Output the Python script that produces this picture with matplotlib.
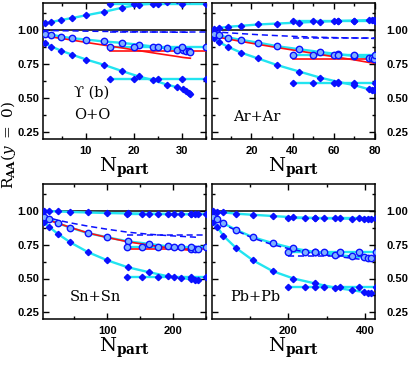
import matplotlib
matplotlib.use('Agg')
import matplotlib.pyplot as plt
from matplotlib.ticker import FixedLocator, FormatStrFormatter

plt.rcParams['mathtext.fontset'] = 'dejavuserif'

# ---------------- O+O ----------------
oo_x = [1.4, 2.8, 4.8, 7.2, 10.1, 13.8, 17.5, 21.0, 24.1, 26.9, 29.0, 30.2, 30.9, 31.5, 31.8]
oo_top = [1.05, 1.06, 1.075, 1.09, 1.11, 1.135, 1.165, 1.188, 1.196, 1.21, 1.22, 1.225, 1.23, 1.23, 1.23]
oo_mid = [0.975, 0.968, 0.953, 0.941, 0.931, 0.917, 0.907, 0.893, 0.88, 0.866, 0.858, 0.852, 0.848, 0.845, 0.843]
oo_low = [0.904, 0.88, 0.85, 0.819, 0.784, 0.745, 0.70, 0.66, 0.632, 0.60, 0.581, 0.566, 0.554, 0.541, 0.532]
oo_red = [0.957, 0.95, 0.94, 0.927, 0.91, 0.89, 0.87, 0.85, 0.833, 0.818, 0.807, 0.80, 0.797, 0.795, 0.794]
oo_dash = [0.998, 0.997, 0.996, 0.995, 0.993, 0.991, 0.99, 0.988, 0.987, 0.986, 0.985, 0.985, 0.985, 0.985, 0.985]
oo_hx = [15, 20, 25, 30, 35]
oo_h = {'top': 1.19, 'mid': 0.88, 'low': 0.64, 'red': 0.845, 'dash': 0.985}

# ---------------- Ar+Ar ----------------
ar_x = [1.7, 4.1, 8.7, 14.8, 23.2, 32.6, 43.2, 53.2, 62.1, 69.9, 77.0, 78.5, 79.5]
ar_top = [1.012, 1.017, 1.025, 1.032, 1.042, 1.049, 1.056, 1.063, 1.068, 1.071, 1.074, 1.075, 1.075]
ar_mid = [0.975, 0.963, 0.946, 0.929, 0.909, 0.882, 0.86, 0.84, 0.824, 0.811, 0.797, 0.793, 0.79]
ar_low = [0.939, 0.914, 0.877, 0.836, 0.792, 0.743, 0.696, 0.652, 0.62, 0.596, 0.566, 0.562, 0.559]
ar_red = [0.955, 0.948, 0.935, 0.918, 0.896, 0.872, 0.847, 0.822, 0.80, 0.782, 0.763, 0.76, 0.757]
ar_dash = [0.99, 0.986, 0.981, 0.975, 0.967, 0.96, 0.953, 0.948, 0.945, 0.943, 0.941, 0.94, 0.939]
ar_hx = [40, 50, 60, 62, 70, 80]
ar_h = {'top': 1.069, 'mid': 0.82, 'low': 0.61, 'red': 0.787, 'dash': 0.945}

# ---------------- Sn+Sn ----------------
sn_x = [3.6, 11.2, 24.9, 44.2, 70.6, 100, 131.5, 163.5, 192, 212.7, 228, 234, 238]
sn_top = [1.0, 0.999, 0.997, 0.993, 0.989, 0.985, 0.982, 0.98, 0.978, 0.977, 0.976, 0.975, 0.975]
sn_mid = [0.958, 0.941, 0.909, 0.877, 0.836, 0.806, 0.775, 0.757, 0.738, 0.73, 0.72, 0.718, 0.716]
sn_low = [0.922, 0.885, 0.831, 0.767, 0.696, 0.635, 0.583, 0.547, 0.517, 0.505, 0.493, 0.49, 0.488]
sn_red = [0.944, 0.932, 0.91, 0.878, 0.838, 0.804, 0.772, 0.748, 0.728, 0.716, 0.708, 0.705, 0.703]
sn_dash = [0.962, 0.95, 0.932, 0.912, 0.888, 0.865, 0.843, 0.828, 0.818, 0.812, 0.808, 0.806, 0.805]
sn_hx = [130, 153, 177, 202, 228, 250]
sn_h = {'top': 0.975, 'mid': 0.735, 'low': 0.51, 'red': 0.72, 'dash': 0.82}

# ---------------- Pb+Pb ----------------
pb_x = [4, 13, 30, 63.5, 107, 159, 213, 270, 322, 365, 396, 409, 415]
pb_top = [0.998, 0.995, 0.99, 0.98, 0.972, 0.963, 0.953, 0.948, 0.945, 0.943, 0.941, 0.94, 0.94]
pb_mid = [0.958, 0.939, 0.909, 0.86, 0.806, 0.762, 0.723, 0.696, 0.676, 0.664, 0.657, 0.654, 0.652]
pb_low = [0.922, 0.885, 0.816, 0.725, 0.635, 0.554, 0.50, 0.463, 0.431, 0.414, 0.40, 0.395, 0.393]
pb_dash = [0.955, 0.935, 0.902, 0.855, 0.799, 0.75, 0.713, 0.684, 0.665, 0.65, 0.64, 0.635, 0.63]
pb_hx = [200, 244, 270, 292, 335, 383, 428]
pb_h = {'top': 0.945, 'mid': 0.694, 'low': 0.44, 'dash': 0.664}

labels = ['O+O', 'Ar+Ar', 'Sn+Sn', 'Pb+Pb']
xlims = [(1, 35), (1, 80), (2, 250), (1, 426)]
xmajor = [[10, 20, 30], [20, 40, 60, 80], [100, 200], [200, 400]]
xminor = [[5, 15, 25, 35], [10, 30, 50, 70], [50, 150, 250], [100, 300]]
yticks = [0.25, 0.50, 0.75, 1.00]
yminor = [0.375, 0.625, 0.875, 1.125]

panels = [
    dict(x=oo_x, top=oo_top, mid=oo_mid, low=oo_low, red=oo_red, dash=oo_dash, hx=oo_hx, h=oo_h),
    dict(x=ar_x, top=ar_top, mid=ar_mid, low=ar_low, red=ar_red, dash=ar_dash, hx=ar_hx, h=ar_h),
    dict(x=sn_x, top=sn_top, mid=sn_mid, low=sn_low, red=sn_red, dash=sn_dash, hx=sn_hx, h=sn_h),
    dict(x=pb_x, top=pb_top, mid=pb_mid, low=pb_low, red=None, dash=pb_dash, hx=pb_hx, h=pb_h),
]

W, H = 415, 367
fig = plt.figure(figsize=(W / 100, H / 100), dpi=100)
boxes = [(42.7, 3, 205.7, 139), (212.3, 3, 375, 139),
         (42.7, 184, 205.7, 319), (212.3, 184, 375, 319)]

CYAN = '#22E4F0'
BLUE = '#0a10ff'
RED = '#ff1010'
tickfont = dict(family='Liberation Sans', weight='bold', size=8)
serif = ['DejaVu Serif', 'DejaVu Sans']

for i, (p, b) in enumerate(zip(panels, boxes)):
    x0, y0, x1, y1 = b
    ax = fig.add_axes([x0 / W, 1 - y1 / H, (x1 - x0) / W, (y1 - y0) / H])
    ax.set_xlim(*xlims[i])
    ax.set_ylim(0.2, 1.2)
    xlo, xhi = xlims[i]
    ax.plot([xlo, xhi], [1.0, 1.0], color='black', lw=1.1, zorder=2)
    hx = p['hx']
    hx_line = [hx[0], hx[-1]]
    # cyan curves
    for key in ('top', 'mid', 'low'):
        ax.plot(p['x'], p[key], color=CYAN, lw=1.7, zorder=3)
        ax.plot(hx_line, [p['h'][key]] * 2, color=CYAN, lw=1.7, zorder=3)
    # red
    if p['red'] is not None:
        ax.plot([xlo] + p['x'], [p['red'][0]] + p['red'], color=RED, lw=1.2, zorder=4)
        ax.plot(hx_line, [p['h']['red']] * 2, color=RED, lw=1.2, zorder=4)
    # dashed
    ax.plot([xlo] + p['x'], [p['dash'][0]] + p['dash'], color=BLUE, lw=1.1,
            dashes=(4, 2.5), zorder=4)
    ax.plot(hx_line, [p['h']['dash']] * 2, color=BLUE, lw=1.1, dashes=(4, 2.5), zorder=4)
    # markers
    for key in ('top', 'low'):
        ax.plot(p['x'], p[key], ls='none', marker='D', ms=3.2, color=BLUE, zorder=5)
        ax.plot(hx, [p['h'][key]] * len(hx), ls='none', marker='D', ms=3.2, color=BLUE, zorder=5)
    ax.plot(p['x'], p['mid'], ls='none', marker='o', ms=4.6, mfc='#7fb0ff', mec=BLUE, mew=1.0, zorder=5)
    ax.plot(hx, [p['h']['mid']] * len(hx), ls='none', marker='o', ms=4.6, mfc='#7fb0ff',
            mec=BLUE, mew=1.0, zorder=5)

    ax.xaxis.set_major_locator(FixedLocator(xmajor[i]))
    ax.xaxis.set_minor_locator(FixedLocator(xminor[i]))
    ax.yaxis.set_major_locator(FixedLocator(yticks))
    ax.yaxis.set_minor_locator(FixedLocator(yminor))
    ax.yaxis.set_major_formatter(FormatStrFormatter('%.2f'))
    ax.tick_params(which='both', direction='in', top=True, right=True, width=1.0)
    ax.tick_params(which='major', length=4.5)
    ax.tick_params(which='minor', length=2.3)
    ax.tick_params(axis='x', pad=5)
    if i % 2 == 1:
        ax.tick_params(axis='y', labelleft=False, labelright=True, pad=8)
    else:
        ax.tick_params(axis='y', pad=2.5)
    for lab in ax.get_xticklabels() + ax.get_yticklabels():
        lab.set_fontproperties(tickfont)
    for s in ax.spines.values():
        s.set_linewidth(1.1)
    ax.set_xlabel(r'$\mathrm{N}_{\mathbf{part}}$', fontsize=14, labelpad=0)

fig.axes[0].text(0.19, 0.34, 'ϒ (b)', transform=fig.axes[0].transAxes, fontsize=10.5,
                 family=serif, va='center')
fig.axes[0].text(0.19, 0.175, 'O+O', transform=fig.axes[0].transAxes, fontsize=10.5,
                 family=serif, va='center')
fig.axes[1].text(0.125, 0.162, 'Ar+Ar', transform=fig.axes[1].transAxes, fontsize=10.5,
                 family=serif, va='center')
fig.axes[2].text(0.165, 0.163, 'Sn+Sn', transform=fig.axes[2].transAxes, fontsize=10.5,
                 family=serif, va='center')
fig.axes[3].text(0.108, 0.163, 'Pb+Pb', transform=fig.axes[3].transAxes, fontsize=10.5,
                 family=serif, va='center')

fig.text(0.0215, 1 - 145 / H, r'$\mathrm{R}_{\mathbf{AA}}(y\ =\ 0)$', rotation=90,
         fontsize=11, ha='center', va='center')

fig.savefig('out.png', dpi=100)
